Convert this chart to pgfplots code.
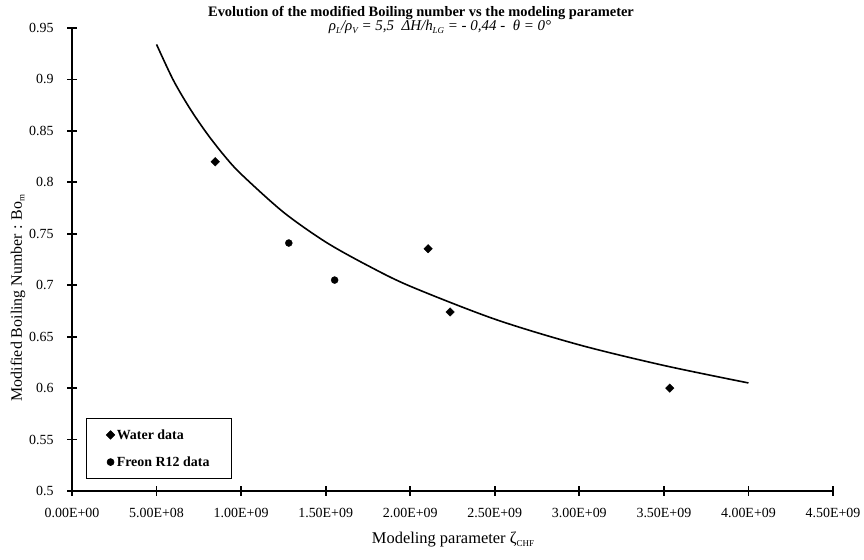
\documentclass[border=0pt]{standalone}
\usepackage{fontspec}
\setmainfont{Liberation Serif}
\usepackage{pgfplots}
\pgfplotsset{compat=1.18}

\newcommand{\sub}[1]{\raisebox{-0.35ex}{\fontsize{9}{9}\selectfont #1}}

\begin{document}
\begin{tikzpicture}[x=1bp,y=1bp]
\path[use as bounding box] (0,0) rectangle (864,560);
\begin{axis}[
    at={(72bp,69bp)}, anchor=south west,
    width=761bp, height=463bp, scale only axis,
    xmin=0, xmax=4.5e9, ymin=0.5, ymax=0.95,
    axis lines*=left,
    axis line style={line width=2bp},
    clip=false,
    scaled x ticks=false, scaled y ticks=false,
    xtick={0,5e8,1e9,1.5e9,2e9,2.5e9,3e9,3.5e9,4e9,4.5e9},
    xticklabels={0.00E+00,5.00E+08,1.00E+09,1.50E+09,2.00E+09,2.50E+09,3.00E+09,3.50E+09,4.00E+09,4.50E+09},
    ytick={0.5,0.55,0.6,0.65,0.7,0.75,0.8,0.85,0.9,0.95},
    yticklabels={0.5,0.55,0.6,0.65,0.7,0.75,0.8,0.85,0.9,0.95},
    tick align=center, major tick length=10bp,
    tick style={black, line width=1.8bp},
    ticklabel style={font=\fontsize{14}{14}\selectfont},
    xticklabel style={yshift=-9bp},
    yticklabel style={xshift=-10bp},
    legend style={at={(0.0184,0.026)}, anchor=south west,
        draw=black, line width=0.6bp, inner xsep=20bp, inner ysep=9bp,
        row sep=12bp, font=\bfseries\fontsize{14}{15}\selectfont,
        cells={anchor=west}},
    legend image code/.code={\draw[mark repeat=2,mark phase=2,#1]
        plot coordinates {(0cm,0cm)(0.1cm,0cm)(0.2cm,0cm)};},
]
% fitted correlation
\addplot[black, line width=1.6bp, smooth, forget plot] coordinates {
    (5e8,0.934)(6e8,0.899)(7e8,0.871)(8e8,0.847)(9e8,0.826)(1e9,0.808)
    (1.25e9,0.771)(1.5e9,0.742)(1.75e9,0.719)(2e9,0.699)(2.5e9,0.667)
    (3e9,0.642)(3.5e9,0.622)(4e9,0.605)};
\addplot[only marks, mark=square*, mark size=3bp, mark options={rotate=45}, black] coordinates {
    (8.47e8,0.820)(2.106e9,0.7355)(2.236e9,0.674)(3.535e9,0.600)};
\addlegendentry{Water data}
\addplot[only marks, mark=*, mark size=3.5bp, black] coordinates {
    (1.282e9,0.741)(1.553e9,0.705)};
\addlegendentry{Freon R12 data}
\end{axis}
\node[font=\bfseries\fontsize{14.5}{16}\selectfont] at (421,547)
    {Evolution of the modified Boiling number vs the modeling parameter};
\node[font=\itshape\fontsize{15}{16}\selectfont] at (440,533)
    {ρ\sub{L}/ρ\sub{V} = 5,5 \ ΔH/h\sub{LG} = - 0,44 - \ θ = 0°};
\node[font=\fontsize{16.5}{17}\selectfont] at (453,20)
    {Modeling parameter ζ\sub{CHF}};
\node[font=\fontsize{16}{16}\selectfont, rotate=90] at (18,262)
    {Modified Boiling Number : Bo\sub{m}};
\end{tikzpicture}
\end{document}
